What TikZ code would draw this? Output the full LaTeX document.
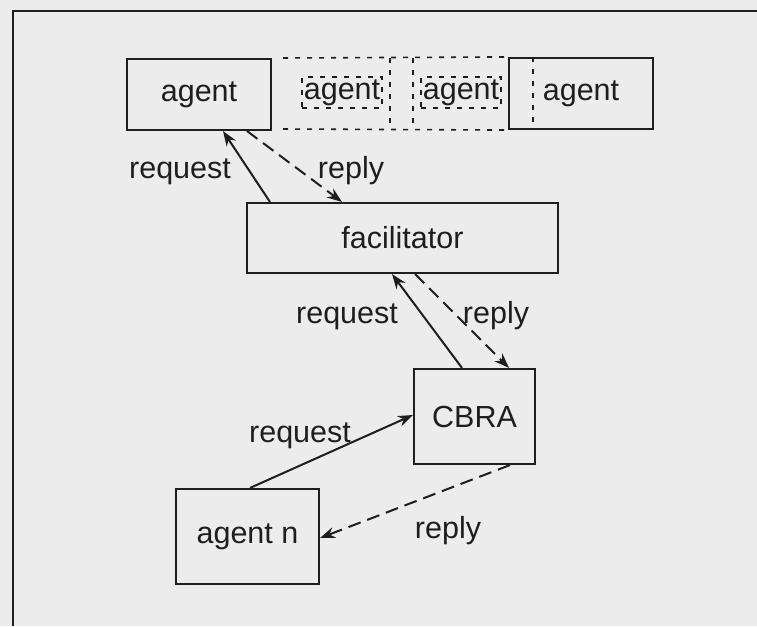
\documentclass[tikz,border=0pt]{standalone}
\usepackage{fontspec}
\setmainfont{Liberation Sans}
\usetikzlibrary{arrows.meta}
\definecolor{paper}{RGB}{236,236,236}
\definecolor{ink}{RGB}{30,30,30}
\begin{document}
\begin{tikzpicture}[x=1pt,y=-1pt,
  every node/.style={font=\fontsize{30.5}{36}\selectfont, text=ink},
  box/.style={draw=ink, line width=2.1pt, rectangle, inner sep=0pt},
  ghost/.style={draw=ink, line width=1.6pt, dash pattern=on 5pt off 7pt, rectangle, inner sep=0pt},
  ghostline/.style={draw=ink, line width=1.6pt, dash pattern=on 5pt off 7pt},
  msg/.style={draw=ink, line width=2pt, -{Stealth[length=15pt,width=11pt]}},
  rep/.style={msg, dash pattern=on 13pt off 7pt},
  lbl/.style={anchor=base}]
  % page and frame
  \fill[paper] (0,0) rectangle (757,626);
  \useasboundingbox (0,0) rectangle (757,626);
  \draw[ink, line width=2.1pt] (13,626) -- (13,11) -- (757,11);

  % agents row
  \node[box, minimum width=144pt, minimum height=71pt] (agent) at (199,94.5) {agent};
  \node[ghost, minimum width=80pt, minimum height=31pt] (ag1) at (342,92.5) {agent};
  \node[ghost, minimum width=80pt, minimum height=31pt] (ag2) at (461,92.5) {agent};
  \node[box, minimum width=144pt, minimum height=71pt] (agentk) at (581,93.5) {agent};
  \draw[ghostline] (283,58) -- (agentk.north west);
  \draw[ghostline] (283,129) -- (agentk.south west);
  \draw[ghostline] (390,58) -- (390,129);
  \draw[ghostline] (413,58) -- (413,129);
  \draw[ghostline] ([xshift=-48pt]agentk.north) -- ([xshift=-48pt]agentk.south);

  % facilitator, CBRA, agent n
  \node[box, minimum width=311pt, minimum height=70pt] (fac) at (402.5,238) {facilitator};
  \node[box, minimum width=121pt, minimum height=95pt] (cbra) at (474.5,416.5) {CBRA};
  \node[box, minimum width=143pt, minimum height=95pt] (agentn) at (247.5,536.5) {agent n};

  % messages between agent and facilitator
  \draw[msg] ([xshift=-132.5pt]fac.north) -- ([xshift=24pt]agent.south);
  \draw[rep] ([xshift=48pt]agent.south) -- ([xshift=-60.5pt]fac.north);
  \node[lbl] (lq1) at (180,178) {request};
  \node[lbl] (lp1) at (351,178) {reply};

  % messages between CBRA and facilitator
  \draw[msg] ([xshift=-12.5pt]cbra.north) -- ([xshift=-10.5pt]fac.south);
  \draw[rep] ([xshift=12.5pt]fac.south) -- ([xshift=34.5pt]cbra.north);
  \node[lbl] (lq2) at (347,323) {request};
  \node[lbl] (lp2) at (496,323) {reply};

  % messages between agent n and CBRA
  \draw[msg] ([xshift=2.5pt]agentn.north) -- ([yshift=1.5pt]cbra.west);
  \draw[rep] ([xshift=35.5pt]cbra.south) -- ([yshift=-1.5pt]agentn.east);
  \node[lbl] (lq3) at (300,442) {request};
  \node[lbl] (lp3) at (448,538) {reply};
\end{tikzpicture}
\end{document}
